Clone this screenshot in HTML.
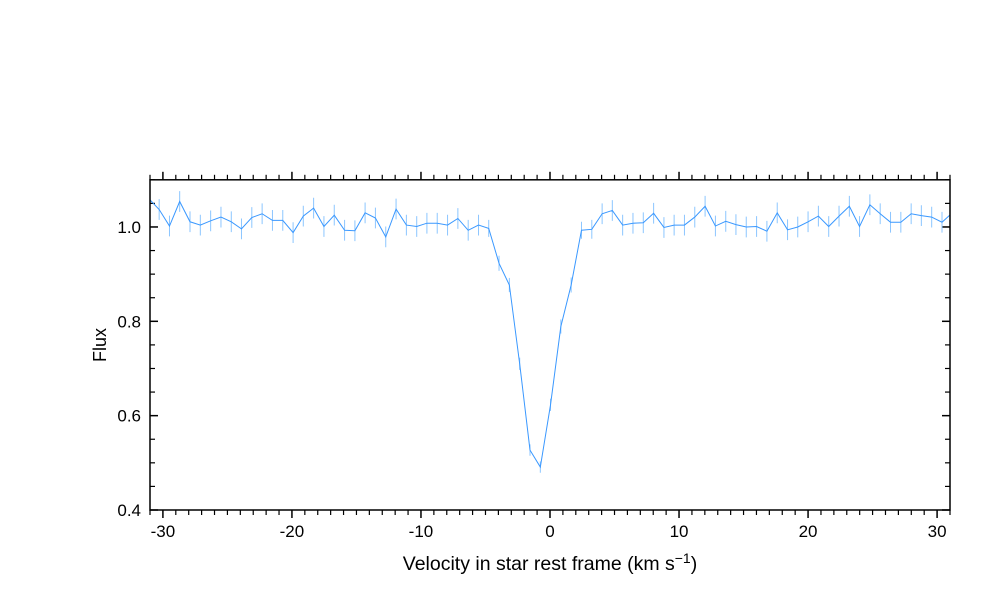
<!DOCTYPE html>
<html><head><meta charset="utf-8"><style>
html,body{margin:0;padding:0;background:#fff;}
svg{display:block;font-family:"Liberation Sans",sans-serif;}
</style></head><body>
<svg id="chart" width="1000" height="600" viewBox="0 0 1000 600">
<defs><clipPath id="clip"><rect x="150" y="179.8" width="800" height="330.2"/></clipPath></defs>
<g id="grid"></g>
<g id="series" clip-path="url(#clip)"></g>
<rect x="150" y="179.8" width="800" height="330.2" fill="none" stroke="#000" stroke-width="1.5"/>
<text x="550" y="570" text-anchor="middle" font-size="19.5">Velocity in star rest frame (km s<tspan font-size="14" dy="-7">−1</tspan><tspan dy="7">)</tspan></text>
<text transform="translate(106,345) rotate(-90)" text-anchor="middle" font-size="18">Flux</text>
</svg>
<script>
const velocity = [-31.09,-30.29,-29.49,-28.70,-27.90,-27.10,-26.30,-25.50,-24.70,-23.91,-23.11,-22.31,-21.51,-20.71,-19.91,-19.12,-18.32,-17.52,-16.72,-15.92,-15.12,-14.33,-13.53,-12.73,-11.93,-11.13,-10.33,-9.54,-8.74,-7.94,-7.14,-6.34,-5.54,-4.75,-3.95,-3.15,-2.35,-1.55,-0.75,0.04,0.84,1.64,2.44,3.24,4.04,4.83,5.63,6.43,7.23,8.03,8.83,9.62,10.42,11.22,12.02,12.82,13.62,14.41,15.21,16.01,16.81,17.61,18.41,19.20,20.00,20.80,21.60,22.40,23.20,23.99,24.79,25.59,26.39,27.19,27.99,28.78,29.58,30.38,31.18];
const flux = [1.060,1.037,1.002,1.054,1.011,1.004,1.013,1.021,1.011,0.996,1.020,1.028,1.014,1.014,0.988,1.023,1.040,1.001,1.025,0.993,0.992,1.030,1.019,0.979,1.038,1.004,1.001,1.008,1.008,1.004,1.018,0.993,1.004,0.997,0.923,0.877,0.710,0.527,0.491,0.623,0.789,0.877,0.993,0.995,1.028,1.035,1.004,1.008,1.009,1.029,0.999,1.004,1.004,1.021,1.044,1.002,1.012,1.005,1.000,1.001,0.991,1.030,0.994,1.000,1.011,1.023,1.001,1.023,1.044,1.001,1.047,1.028,1.010,1.010,1.028,1.024,1.021,1.010,1.030];
const fluxErr = [0.022,0.022,0.022,0.022,0.022,0.022,0.022,0.022,0.022,0.022,0.022,0.022,0.022,0.022,0.022,0.022,0.022,0.022,0.022,0.022,0.022,0.022,0.022,0.022,0.022,0.022,0.022,0.022,0.022,0.022,0.022,0.022,0.022,0.018,0.016,0.015,0.013,0.012,0.012,0.013,0.015,0.016,0.018,0.020,0.022,0.022,0.022,0.022,0.022,0.022,0.022,0.022,0.022,0.022,0.022,0.022,0.022,0.022,0.022,0.022,0.022,0.022,0.022,0.022,0.022,0.022,0.022,0.022,0.022,0.022,0.022,0.022,0.022,0.022,0.022,0.022,0.022,0.022,0.022];
const xTicks = [-30,-20,-10,0,10,20,30];
const yTicks = [0.4,0.6,0.8,1.0];
const yTickLabels = ["0.4","0.6","0.8","1.0"];

const X0=150,X1=950,Y0=510,Y1=179.8;
const xMin=-31,xMax=31,yMin=0.4,yMax=1.1;
const sx=v=>X0+(v-xMin)/(xMax-xMin)*(X1-X0);
const sy=f=>Y0-(f-yMin)/(yMax-yMin)*(Y0-Y1);
const NS="http://www.w3.org/2000/svg";
function mk(tag,attrs,parent){const e=document.createElementNS(NS,tag);for(const k in attrs)e.setAttribute(k,attrs[k]);parent.appendChild(e);return e;}
const grid=document.getElementById('grid'), series=document.getElementById('series');

for(let v=-31;v<=31;v++){
  const x=sx(v), major=(v%10===0), len=major?8:5;
  const t1=mk('line',{x1:x,x2:x,y1:Y0,y2:Y0+len,stroke:'#000','stroke-width':major?1.5:1.2},grid);
  
  
  const t2=mk('line',{x1:x,x2:x,y1:Y1,y2:Y1-len,stroke:'#000','stroke-width':major?1.5:1.2},grid);
  
  
}
xTicks.forEach(v=>{
  const t=mk('text',{x:sx(v),y:537,'text-anchor':'middle','font-size':17},grid);
  t.textContent=String(v);
  
  
});
for(let i=0;i<=14;i++){
  const f=0.4+i*0.05, y=sy(f), major=(i%4===0), len=major?8:5;
  const a=mk('line',{x1:X0,x2:X0+len,y1:y,y2:y,stroke:'#000','stroke-width':major?1.5:1.2},grid);
  
  
  const b=mk('line',{x1:X1,x2:X1-len,y1:y,y2:y,stroke:'#000','stroke-width':major?1.5:1.2},grid);
  
  
}
yTicks.forEach((f,i)=>{
  const t=mk('text',{x:141,y:sy(f)+6,'text-anchor':'end','font-size':17},grid);
  t.textContent=yTickLabels[i];
  
  
});
velocity.forEach((v,i)=>{
  const e=mk('line',{x1:sx(v),x2:sx(v),y1:sy(flux[i]-fluxErr[i]),y2:sy(flux[i]+fluxErr[i]),stroke:'#8cc6ff','stroke-width':1},series);
  
  
});
const pts=velocity.map((v,i)=>sx(v).toFixed(2)+','+sy(flux[i]).toFixed(2)).join(' ');
const pl=mk('polyline',{points:pts,fill:'none',stroke:'#3a98ff','stroke-width':1},series);


</script>
</body></html>
